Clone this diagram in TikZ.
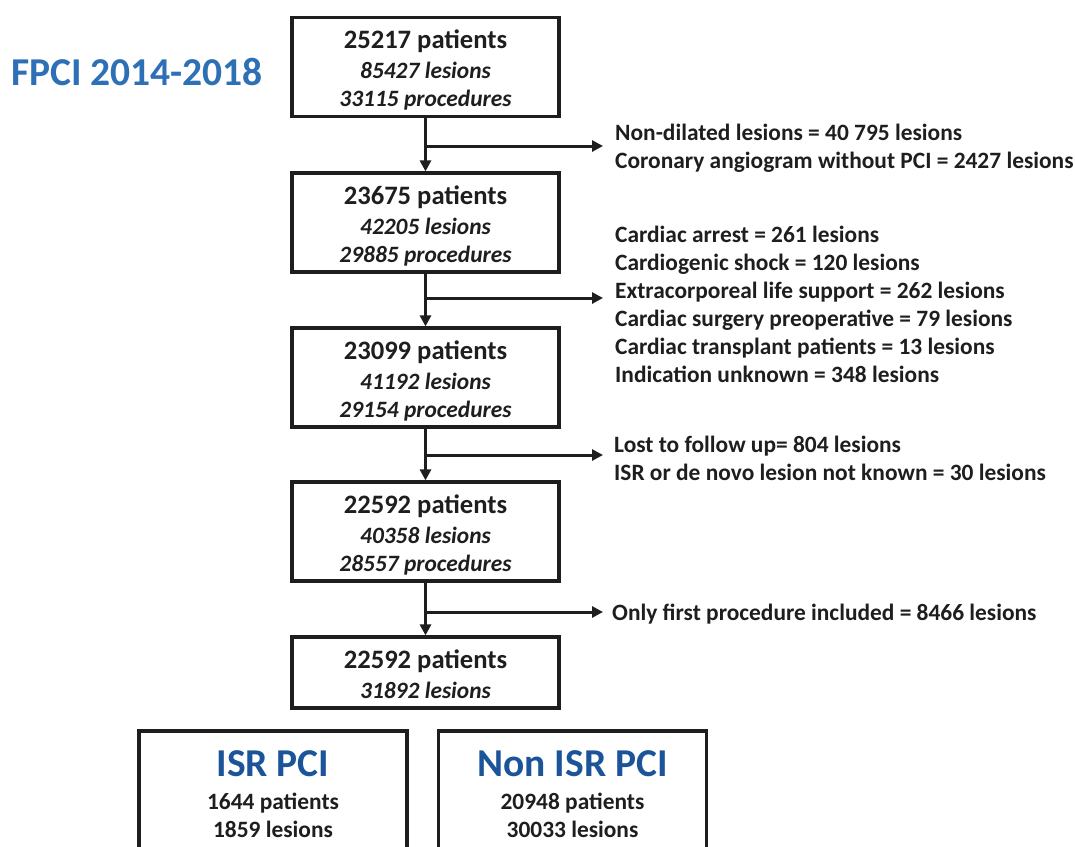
\documentclass[tikz,border=0pt]{standalone}
\usepackage{fontspec}
\setmainfont{Carlito}
\usetikzlibrary{arrows.meta}
\definecolor{fpciblue}{RGB}{46,112,182}
\definecolor{isrblue}{RGB}{28,84,154}
\definecolor{ink}{RGB}{30,30,30}
\tikzset{
  box/.style={draw=ink, line width=3.2pt, minimum width=267pt, minimum height=99pt, inner sep=0pt},
  lastbox/.style={box, minimum height=71pt},
  grp/.style={draw=ink, line width=3.2pt, minimum width=268pt, minimum height=150pt, inner sep=0pt},
  arr/.style={draw=ink, line width=3pt, -{Triangle[length=11pt,width=11pt]}},
  ttl/.style={anchor=base, inner sep=0pt, text=ink, font=\fontsize{26.6}{30}\selectfont\bfseries},
  sub/.style={anchor=base, inner sep=0pt, text=ink, font=\fontsize{23.4}{28}\selectfont\bfseries\itshape},
  side/.style={anchor=base west, inner sep=0pt, text=ink, font=\fontsize{23.4}{28}\selectfont\bfseries},
  plain/.style={anchor=base, inner sep=0pt, text=ink, font=\fontsize{23.4}{28}\selectfont\bfseries},
  big/.style={anchor=base, inner sep=0pt, font=\fontsize{39.5}{44}\selectfont\bfseries},
}
\begin{document}
\begin{tikzpicture}[x=1pt,y=-1pt]
\clip (0,0) rectangle (1075,846);
\fill[white] (0,0) rectangle (1075,846);

\node[big, anchor=base west, text=fpciblue] (title) at (11,85) {FPCI 2014-2018};

% main boxes
\node[box] (b1) at (425.5,67) {};
\node[box] (b2) at (425.5,222.5) {};
\node[box] (b3) at (425.5,377.5) {};
\node[box] (b4) at (425.5,531.5) {};
\node[lastbox] (b5) at (425.5,672.5) {};

\node[ttl] (t1a) at (425.5,48) {25217 patients};
\node[sub] (t1b) at (425.5,78) {85427 lesions};
\node[sub] (t1c) at (425.5,106) {33115 procedures};

\node[ttl] (t2a) at (425.5,204) {23675 patients};
\node[sub] (t2b) at (425.5,234) {42205 lesions};
\node[sub] (t2c) at (425.5,262) {29885 procedures};

\node[ttl] (t3a) at (425.5,359) {23099 patients};
\node[sub] (t3b) at (425.5,389) {41192 lesions};
\node[sub] (t3c) at (425.5,417) {29154 procedures};

\node[ttl] (t4a) at (425.5,513) {22592 patients};
\node[sub] (t4b) at (425.5,543) {40358 lesions};
\node[sub] (t4c) at (425.5,571) {28557 procedures};

\node[ttl] (t5a) at (425.5,668) {22592 patients};
\node[sub] (t5b) at (425.5,698) {31892 lesions};

% vertical arrows
\draw[arr] (b1.south) -- (b2.north);
\draw[arr] (b2.south) -- (b3.north);
\draw[arr] (b3.south) -- (b4.north);
\draw[arr] (b4.south) -- (b5.north);

% branch arrows
\coordinate (j1) at (425.5,146);
\coordinate (e1) at (603,146);
\coordinate (j2) at (425.5,298);
\coordinate (e2) at (603,298);
\coordinate (j3) at (425.5,455);
\coordinate (e3) at (603,455);
\coordinate (j4) at (425.5,612);
\coordinate (e4) at (603,612);
\draw[arr] (j1) -- (e1);
\draw[arr] (j2) -- (e2);
\draw[arr] (j3) -- (e3);
\draw[arr] (j4) -- (e4);

% side texts
\node[side] (s1a) at (615,140) {Non-dilated lesions = 40 795 lesions};
\node[side] (s1b) at (615,168) {Coronary angiogram without PCI = 2427 lesions};

\node[side] (s2a) at (615,242) {Cardiac arrest = 261 lesions};
\node[side] (s2b) at (615,270) {Cardiogenic shock = 120 lesions};
\node[side] (s2c) at (615,298) {Extracorporeal life support = 262 lesions};
\node[side] (s2d) at (615,326) {Cardiac surgery preoperative = 79 lesions};
\node[side] (s2e) at (615,354) {Cardiac transplant patients = 13 lesions};
\node[side] (s2f) at (615,382) {Indication unknown = 348 lesions};

\node[side] (s3a) at (614,452) {Lost to follow up= 804 lesions};
\node[side] (s3b) at (614,480) {ISR or de novo lesion not known = 30 lesions};

\node[side] (s4a) at (612,620) {Only first procedure included = 8466 lesions};

% bottom groups
\node[grp] (isr) at (273,806) {};
\node[grp] (non) at (572.5,806) {};
\node[big, text=isrblue] (isrt) at (273,776) {ISR PCI};
\node[plain] (isra) at (273,809) {1644 patients};
\node[plain] (isrb) at (273,837) {1859 lesions};
\node[big, text=isrblue] (nont) at (572.5,776) {Non ISR PCI};
\node[plain] (nona) at (572.5,809) {20948 patients};
\node[plain] (nonb) at (572.5,837) {30033 lesions};
\end{tikzpicture}
\end{document}
